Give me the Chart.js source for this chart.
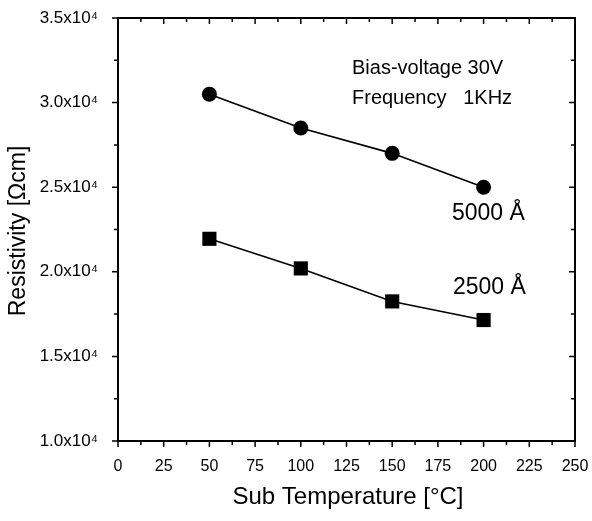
<!DOCTYPE html>
<html lang="en">
<head>
    <meta charset="UTF-8">
    <title>Resistivity vs Sub Temperature</title>
    <script src="https://cdn.jsdelivr.net/npm/chart.js"></script>
    <style>
        html, body { margin: 0; padding: 0; background: #fff; }
        canvas { display: block; }
    </style>
</head>
<body>
    <canvas id="resChart" width="592" height="521"></canvas>
    <script>
        // Values
        const temperatures = [50, 100, 150, 200];
        const rho5000 = [30500, 28500, 27000, 25000];
        const rho2500 = [21950, 20200, 18250, 17150];
        const seriesNames = ['5000 Å', '2500 Å'];
        const notes = ['Bias-voltage 30V', 'Frequency   1KHz'];

        const FONT = '"Liberation Sans", Arial, sans-serif';

        function toPoints(values) {
            return temperatures.map((t, i) => ({ x: t, y: values[i] }));
        }

        // frame, mirrored ticks, minor ticks, axis titles and notes
        const decorations = {
            id: 'decorations',
            afterDraw(chart) {
                const { ctx, chartArea: a, scales: { x, y } } = chart;
                ctx.save();
                ctx.strokeStyle = '#000';
                ctx.lineWidth = 2;
                ctx.strokeRect(a.left, a.top, a.right - a.left, a.bottom - a.top);

                ctx.lineWidth = 1.5;
                ctx.beginPath();
                for (let v = 0; v <= 250; v += 12.5) {
                    const px = x.getPixelForValue(v);
                    const major = v % 25 === 0;
                    const len = major ? 6 : 4;
                    ctx.moveTo(px, a.bottom); ctx.lineTo(px, a.bottom + len);
                    ctx.moveTo(px, a.top); ctx.lineTo(px, a.top + len);
                }
                for (let v = 10000; v <= 35000; v += 2500) {
                    const py = y.getPixelForValue(v);
                    const major = v % 5000 === 0;
                    const len = major ? 6 : 4;
                    ctx.moveTo(a.left, py); ctx.lineTo(a.left - len, py);
                    ctx.moveTo(a.right, py); ctx.lineTo(a.right - len, py);
                }
                ctx.stroke();

                ctx.fillStyle = '#000';
                ctx.textBaseline = 'alphabetic';

                // axis titles
                ctx.font = '24px ' + FONT;
                ctx.textAlign = 'center';
                ctx.fillText('Sub Temperature [°C]', 348, 504);
                ctx.save();
                ctx.font = '23px ' + FONT;
                ctx.translate(25, 231);
                ctx.rotate(-Math.PI / 2);
                ctx.fillText('Resistivity [Ωcm]', 0, 0);
                ctx.restore();

                // notes
                ctx.textAlign = 'left';
                ctx.font = '20px ' + FONT;
                ctx.fillText(notes[0], 352, 74);
                ctx.fillText(notes[1], 352, 104);

                ctx.font = '23px ' + FONT;
                ctx.fillText(seriesNames[0], 452, 220);
                ctx.fillText(seriesNames[1], 453, 294);
                ctx.restore();
            }
        };

        new Chart(document.getElementById('resChart'), {
            type: 'scatter',
            data: {
                datasets: [
                    {
                        label: seriesNames[0],
                        data: toPoints(rho5000),
                        showLine: true,
                        borderColor: '#000',
                        backgroundColor: '#000',
                        borderWidth: 1.6,
                        pointStyle: 'circle',
                        pointRadius: 7.5,
                        pointBorderWidth: 0
                    },
                    {
                        label: seriesNames[1],
                        data: toPoints(rho2500),
                        showLine: true,
                        borderColor: '#000',
                        backgroundColor: '#000',
                        borderWidth: 1.6,
                        pointStyle: 'rect',
                        pointRadius: 10,
                        pointBorderWidth: 0
                    }
                ]
            },
            options: {
                responsive: false,
                animation: false,
                layout: { padding: { top: 18, right: 17, left: 0, bottom: 0 } },
                plugins: {
                    legend: { display: false },
                    tooltip: { enabled: false }
                },
                scales: {
                    x: {
                        type: 'linear',
                        min: 0,
                        max: 250,
                        grid: { display: false },
                        border: { display: false },
                        ticks: {
                            stepSize: 25,
                            autoSkip: false,
                            maxRotation: 0,
                            padding: 8,
                            color: '#000',
                            font: { family: FONT, size: 16 }
                        },
                        afterFit(scale) {
                            scale.height = 80;
                            scale.paddingLeft = 0;
                            scale.paddingRight = 0;
                        }
                    },
                    y: {
                        min: 10000,
                        max: 35000,
                        grid: { display: false },
                        border: { display: false },
                        ticks: {
                            stepSize: 5000,
                            padding: 12,
                            color: '#000',
                            font: { family: FONT, size: 17 },
                            callback: v => (v / 10000).toFixed(1) + 'x10⁴'
                        },
                        afterFit(scale) {
                            scale.width = 118;
                            scale.paddingTop = 0;
                            scale.paddingBottom = 0;
                        }
                    }
                }
            },
            plugins: [decorations]
        });
    </script>
</body>
</html>
